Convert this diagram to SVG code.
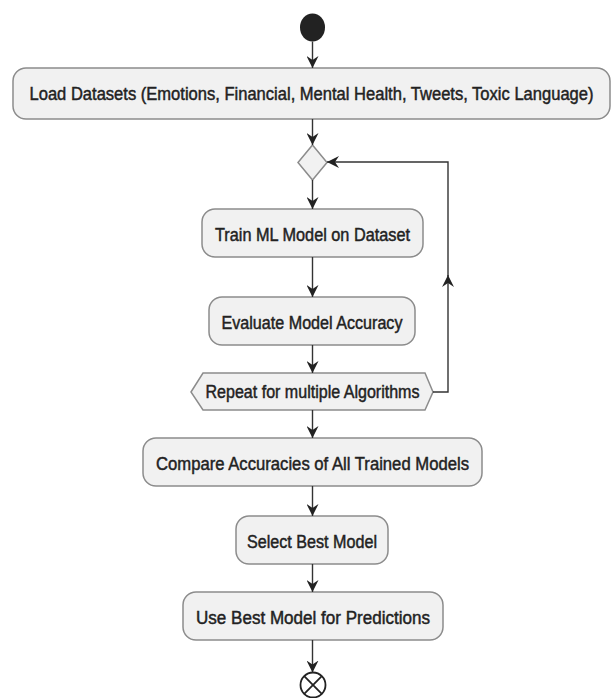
<svg xmlns="http://www.w3.org/2000/svg" width="614" height="698" viewBox="0 0 614 698">
  <style>
    .box { fill: #f1f1f1; stroke: #8c8c8c; stroke-width: 1.5; }
    .lbl { font-family: "Liberation Sans", Arial, sans-serif; font-size: 17.5px; fill: #222; stroke: #222; stroke-width: 0.45; text-anchor: middle; }
    .edge { fill: none; stroke: #333; stroke-width: 1.4; }
  </style>
  <defs>
    <marker id="arr" viewBox="0 0 12 12" refX="12" refY="6" markerWidth="12" markerHeight="12" markerUnits="userSpaceOnUse" orient="auto">
      <path d="M0,0 L12,6 L0,12 L4,6 Z" fill="#222"/>
    </marker>
  </defs>

  <g id="start">
    <ellipse cx="312.5" cy="27.5" rx="12.5" ry="14" fill="#222"/>
  </g>

  <g id="load">
    <rect class="box" x="13" y="68" width="597" height="51" rx="13"/>
    <text class="lbl" x="311.5" y="99.5" font-size="17" textLength="564" lengthAdjust="spacingAndGlyphs">Load Datasets (Emotions, Financial, Mental Health, Tweets, Toxic Language)</text>
  </g>

  <g id="merge">
    <polygon class="box" points="312.5,145 327,162.5 312.5,180 298,162.5"/>
  </g>

  <g id="train">
    <rect class="box" x="202" y="209" width="221" height="48" rx="13"/>
    <text class="lbl" x="312.5" y="241" textLength="195" lengthAdjust="spacingAndGlyphs">Train ML Model on Dataset</text>
  </g>

  <g id="evaluate">
    <rect class="box" x="209" y="297" width="206" height="48" rx="13"/>
    <text class="lbl" x="312" y="329" textLength="181" lengthAdjust="spacingAndGlyphs">Evaluate Model Accuracy</text>
  </g>

  <g id="repeat">
    <polygon class="box" points="191,392 203,373 425,373 433,392 425,410 203,410"/>
    <text class="lbl" x="312.5" y="398" textLength="214" lengthAdjust="spacingAndGlyphs">Repeat for multiple Algorithms</text>
  </g>

  <g id="compare">
    <rect class="box" x="143" y="438" width="339" height="48" rx="13"/>
    <text class="lbl" x="312.5" y="470" textLength="313" lengthAdjust="spacingAndGlyphs">Compare Accuracies of All Trained Models</text>
  </g>

  <g id="select">
    <rect class="box" x="236" y="516" width="152" height="48" rx="13"/>
    <text class="lbl" x="312" y="548" textLength="130" lengthAdjust="spacingAndGlyphs">Select Best Model</text>
  </g>

  <g id="use">
    <rect class="box" x="183" y="592" width="260" height="48" rx="13"/>
    <text class="lbl" x="313" y="624" textLength="234" lengthAdjust="spacingAndGlyphs">Use Best Model for Predictions</text>
  </g>

  <g id="end">
    <circle cx="313" cy="685" r="12.5" fill="#fff" stroke="#222" stroke-width="1.8"/>
    <line x1="304.2" y1="676.2" x2="321.8" y2="693.8" stroke="#222" stroke-width="1.8"/>
    <line x1="321.8" y1="676.2" x2="304.2" y2="693.8" stroke="#222" stroke-width="1.8"/>
  </g>

  <g id="connectors">
    <line class="edge" x1="312.5" y1="41.5" x2="312.5" y2="68" marker-end="url(#arr)"/>
    <line class="edge" x1="312.5" y1="119" x2="312.5" y2="145" marker-end="url(#arr)"/>
    <line class="edge" x1="312.5" y1="180" x2="312.5" y2="209" marker-end="url(#arr)"/>
    <line class="edge" x1="312.5" y1="257" x2="312.5" y2="297" marker-end="url(#arr)"/>
    <line class="edge" x1="312.5" y1="345" x2="312.5" y2="373" marker-end="url(#arr)"/>
    <line class="edge" x1="312.5" y1="410" x2="312.5" y2="438" marker-end="url(#arr)"/>
    <line class="edge" x1="312.5" y1="486" x2="312.5" y2="516" marker-end="url(#arr)"/>
    <line class="edge" x1="312.5" y1="564" x2="312.5" y2="592" marker-end="url(#arr)"/>
    <line class="edge" x1="312.5" y1="640" x2="312.5" y2="672.5" marker-end="url(#arr)"/>
    <polyline class="edge" points="433,392 448,392 448,275" marker-end="url(#arr)"/>
    <polyline class="edge" points="448,276 448,162 327,162" marker-end="url(#arr)"/>
  </g>
</svg>
